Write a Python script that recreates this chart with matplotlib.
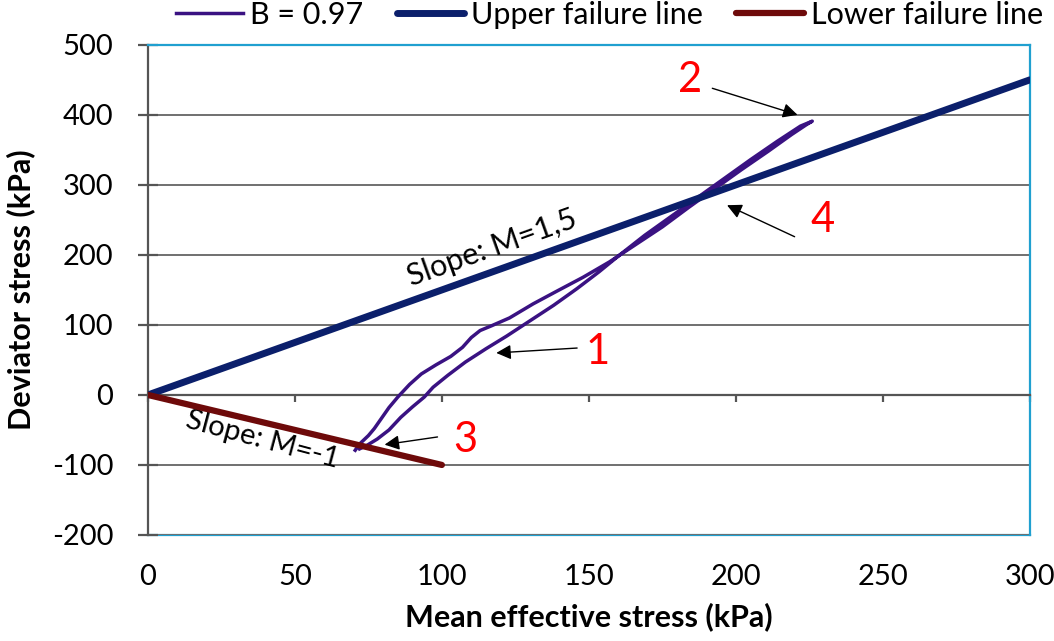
import numpy as np
import matplotlib
matplotlib.use('Agg')
import matplotlib.pyplot as plt

plt.rcParams['font.family'] = ['Lato', 'DejaVu Sans']
plt.rcParams['axes.unicode_minus'] = False

# cyclic stress path, B = 0.97 (mean effective stress p', deviator stress q)
p_up = [70.5, 72, 75, 77, 79, 82, 85, 89, 93, 98, 103, 107, 110, 113, 117, 123,
        131, 139, 148, 157, 166, 175, 184, 193, 202, 211, 219, 224, 226]
q_up = [-79, -70, -58, -48, -36, -18, -3, 15, 30, 43, 55, 68, 82, 92, 99, 110,
        130, 148, 168, 190, 215, 240, 268, 295, 322, 348, 372, 386, 391]
p_down = [226, 222, 214, 205, 196, 187, 178, 169, 160.5, 153.5, 146, 138, 130,
          122, 115, 108, 102, 97, 94, 90, 86, 82, 78, 74.5, 72]
q_down = [391, 384, 362, 336, 309, 282, 255, 228, 200, 176, 152, 128, 106, 84,
          66, 47, 28, 11, -3, -17, -32, -50, -63, -72, -77]

# failure lines
upper_p = [0, 300]
upper_q = [0, 450]
lower_p = [0, 100]
lower_q = [0, -100]

x_ticks = [0, 50, 100, 150, 200, 250, 300]
y_ticks = [-200, -100, 0, 100, 200, 300, 400, 500]

# numbered annotations: label, text pos, arrow tail, arrow head
notes = [('2', (184.5, 450), (192, 438), (221, 400)),
         ('4', (229.5, 250), (220, 226), (197, 271)),
         ('1', (153, 61), (146, 67), (118.5, 60)),
         ('3', (108, -64), (98.5, -60), (80.5, -71))]

purple = '#3a1282'
navy = '#0b1f6b'
maroon = '#6e0a0a'
border = '#20a0d0'
grey = '#707070'
fs = 22

fig = plt.figure(figsize=(10.54, 6.41), dpi=100)
ax = fig.add_axes([0.1404, 0.1654, 0.8366, 0.7646])

ax.plot(p_up + p_down[1:], q_up + q_down[1:], color=purple, lw=2.5,
        label='B = 0.97', zorder=3)
ax.plot(upper_p, upper_q, color=navy, lw=5, solid_capstyle='round',
        label='Upper failure line', zorder=4)
ax.plot(lower_p, lower_q, color=maroon, lw=4.5, solid_capstyle='round',
        label='Lower failure line', zorder=4)

ax.set_xlim(0, 300)
ax.set_ylim(-200, 500)
ax.set_xticks(x_ticks)
ax.set_yticks(y_ticks)
ax.yaxis.grid(True, color=grey, lw=1.4)
ax.set_axisbelow(True)

# x axis sits at q = 0, labels go at the bottom of the plot area
ax.spines['bottom'].set_position(('data', 0))
ax.spines['bottom'].set_color('#555555')
ax.spines['bottom'].set_linewidth(1.6)
ax.tick_params(axis='x', direction='out', length=5, width=1.6,
               color='#555555', labelbottom=False)
ax.spines['left'].set_color('#555555')
ax.spines['left'].set_linewidth(1.6)
ax.tick_params(axis='y', direction='inout', length=14, width=1.6,
               color='#555555', labelsize=fs - 1, pad=18)
for s in ['top', 'right']:
    ax.spines[s].set_color(border)
    ax.spines[s].set_linewidth(1.6)

sec = ax.secondary_xaxis('bottom')
sec.set_xticks(x_ticks)
sec.tick_params(length=0, labelsize=fs - 1, pad=21)
sec.spines['bottom'].set_color(border)
sec.spines['bottom'].set_linewidth(1.6)
sec.set_xlabel('Mean effective stress (kPa)', fontsize=fs, fontweight='bold',
               labelpad=9)
ax.set_ylabel('Deviator stress (kPa)', fontsize=fs, fontweight='bold',
              labelpad=12)

ax.text(117, 210, 'Slope: M=1,5', fontsize=fs, rotation=19.7,
        rotation_mode='anchor', ha='center', va='center')
ax.text(39, -64, 'Slope: M=-1', fontsize=fs - 1, rotation=-15,
        rotation_mode='anchor', ha='center', va='center')

for label, txt, tail, head in notes:
    ax.text(txt[0], txt[1], label, color='red', fontsize=30,
            ha='center', va='center')
    ax.annotate('', xy=head, xytext=tail,
                arrowprops=dict(arrowstyle='-|>', color='black', lw=1,
                                mutation_scale=22, shrinkA=0, shrinkB=0))

fig.legend(loc='center', bbox_to_anchor=(0.578, 0.977), ncol=3,
           frameon=False, fontsize=fs, handlelength=2.2, handletextpad=0.23,
           columnspacing=1.1, borderaxespad=0)

fig.savefig('out.png', dpi=100)
